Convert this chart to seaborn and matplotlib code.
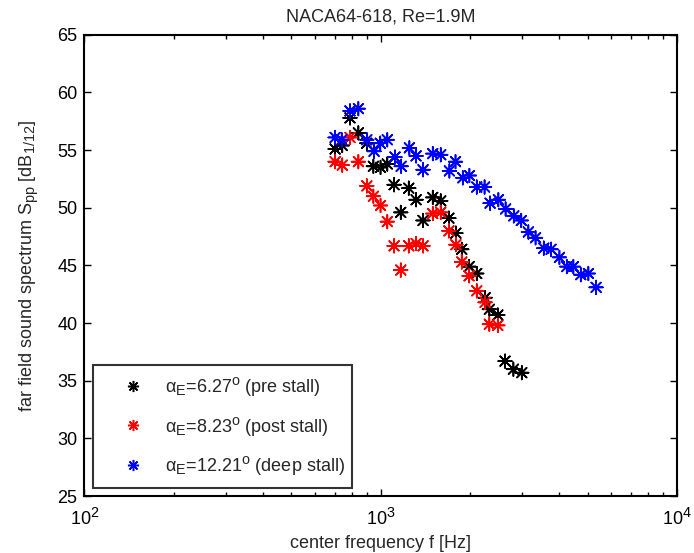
import numpy as np
import pandas as pd
import matplotlib
matplotlib.use('Agg')
import matplotlib.pyplot as plt
import matplotlib._mathtext as mathtext_internal
import seaborn as sns

# 1/12 octave band centres [Hz] and far field spectra [dB]
f_pre = [702, 742, 788, 841, 898, 945, 999, 1053, 1110, 1169, 1244, 1317, 1390,
         1499, 1595, 1699, 1794, 1878, 1988, 2110, 2251, 2327, 2485, 2629, 2805, 2994]
spp_pre = [55.1, 55.4, 57.8, 56.5, 55.6, 53.6, 53.5, 53.8, 52.0, 49.6, 51.7, 50.7, 48.9,
           50.9, 50.6, 49.1, 47.8, 46.4, 44.9, 44.3, 42.2, 41.2, 40.7, 36.7, 36.0, 35.7]

f_post = [702, 742, 788, 841, 898, 945, 999, 1053, 1110, 1169, 1244, 1317, 1390,
          1499, 1595, 1699, 1794, 1878, 1988, 2110, 2251, 2327, 2485]
spp_post = [54.0, 53.7, 56.1, 54.0, 51.9, 51.0, 50.2, 48.8, 46.7, 44.6, 46.7, 46.9, 46.7,
            49.5, 49.6, 48.0, 46.8, 45.3, 44.1, 42.8, 41.8, 39.9, 39.8]

f_deep = [702, 739, 788, 841, 898, 950, 997, 1053, 1118, 1173, 1250, 1317, 1390,
          1499, 1595, 1706, 1789, 1893, 1993, 2110, 2242, 2340, 2496, 2640, 2813, 2982,
          3151, 3332, 3552, 3759, 4011, 4247, 4470, 4735, 5023, 5333]
spp_deep = [56.1, 55.9, 58.4, 58.6, 55.9, 54.9, 55.6, 55.9, 54.4, 53.6, 55.2, 54.5, 53.3,
            54.7, 54.6, 53.2, 54.0, 52.6, 52.8, 51.8, 51.8, 50.4, 50.7, 49.9, 49.3, 48.9,
            47.9, 47.4, 46.5, 46.4, 45.7, 44.9, 44.9, 44.2, 44.3, 43.1]

labels = [r'$\alpha_E$=6.27$^o$ (pre stall)',
          r'$\alpha_E$=8.23$^o$ (post stall)',
          r'$\alpha_E$=12.21$^o$ (deep stall)']
colors = ['#000000', '#ff0000', '#0000ff']

df = pd.concat([
    pd.DataFrame({'f': f_pre, 'spp': spp_pre, 'case': labels[0]}),
    pd.DataFrame({'f': f_post, 'spp': spp_post, 'case': labels[1]}),
    pd.DataFrame({'f': f_deep, 'spp': spp_deep, 'case': labels[2]}),
])

sns.set_style('ticks')
plt.rcParams['font.family'] = ['Liberation Sans', 'DejaVu Sans']
plt.rcParams['mathtext.fontset'] = 'custom'
plt.rcParams['mathtext.rm'] = 'Liberation Sans'
plt.rcParams['mathtext.it'] = 'Liberation Sans'
plt.rcParams['mathtext.default'] = 'regular'
# MATLAB draws sub/superscripts a bit larger than mathtext does
mathtext_internal.SHRINK_FACTOR = 0.8

FS = 13

fig = plt.figure(figsize=(6.94, 5.53), dpi=100)
ax = fig.add_axes([0.1215, 0.103, 0.854, 0.834])

# MATLAB style asterisk
star = (8, 2, 0)
sns.scatterplot(data=df, x='f', y='spp', hue='case', palette=colors,
                marker=star, s=95, linewidth=1.2, ax=ax, legend=False)

ax.set_xscale('log')
ax.set_xlim(100, 10000)
ax.set_ylim(25, 65)
ax.set_yticks(np.arange(25, 66, 5))

ax.tick_params(which='both', direction='in', top=True, right=True,
               labelsize=FS, colors='black')
ax.tick_params(which='major', length=5, width=1)
ax.tick_params(which='minor', length=3, width=1)
ax.tick_params(axis='x', which='major', pad=8)
ax.tick_params(axis='y', which='major', pad=5)
for sp in ax.spines.values():
    sp.set_linewidth(1.5)
    sp.set_color('black')

ax.set_title('NACA64-618, Re=1.9M', fontsize=FS, pad=9.5)
ax.set_xlabel('center frequency f [Hz]', fontsize=FS, labelpad=5)
ax.set_ylabel(r'far field sound spectrum S$_{pp}$ [dB$_{1/12}$]', fontsize=FS, labelpad=12)

# legend
handles = [plt.Line2D([], [], linestyle='none', marker=star, markersize=8,
                      markeredgewidth=1.1, color=c) for c in colors]
leg = ax.legend(handles, labels, loc='lower left', bbox_to_anchor=(0.0152, 0.018, 0.4365, 0.268),
                mode='expand', fontsize=FS, frameon=True, fancybox=False,
                borderaxespad=0, labelspacing=0.9, handlelength=3.2, handletextpad=0.15,
                borderpad=0.6)
leg.get_frame().set_edgecolor('black')
leg.get_frame().set_linewidth(1.5)

fig.savefig('out.png', dpi=100)
